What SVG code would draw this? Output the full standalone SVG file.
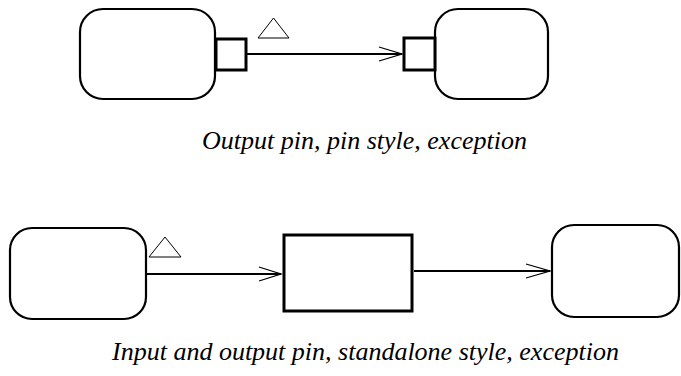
<svg xmlns="http://www.w3.org/2000/svg" width="681" height="376" viewBox="0 0 681 376">
<defs>
<style>
.act{fill:#fff;stroke:#000;stroke-width:2.2}
.pin{fill:#fff;stroke:#000;stroke-width:3}
.box{fill:#fff;stroke:#000;stroke-width:3}
.edge{fill:none;stroke:#000;stroke-width:2}
.head{fill:none;stroke:#000;stroke-width:1.3}
.exc{fill:#fff;stroke:#000;stroke-width:1}
.cap{font-family:"Liberation Serif",serif;font-style:italic;font-size:26px;fill:#000}
</style>
</defs>
<rect width="681" height="376" fill="#fff"/>
<g id="connectors">
<line class="edge" x1="247" y1="54" x2="402" y2="54"/>
<polyline class="head" points="379,47 402,54 379,61"/>
<line class="edge" x1="147" y1="274" x2="281" y2="274"/>
<polyline class="head" points="259,267 281,274 259,281"/>
<line class="edge" x1="414" y1="271" x2="550" y2="271"/>
<polyline class="head" points="526,264 550,271 526,278"/>
</g>
<g id="exc1"><polygon class="exc" points="258,38 273.5,18 289,38"/></g>
<g id="exc2"><polygon class="exc" points="149,257 165,237 181,257"/></g>
<g id="top-left"><rect class="act" x="80" y="9" width="135" height="90" rx="23"/></g>
<g id="top-left-pin"><rect class="pin" x="216" y="39" width="30" height="31"/></g>
<g id="top-right"><rect class="act" x="435" y="9" width="113" height="90" rx="23"/></g>
<g id="top-right-pin"><rect class="pin" x="404" y="38" width="31" height="32"/></g>
<g id="bottom-left"><rect class="act" x="10" y="228" width="136" height="91" rx="22"/></g>
<g id="bottom-mid"><rect class="box" x="284" y="235" width="128" height="76"/></g>
<g id="bottom-right"><rect class="act" x="552" y="225" width="127" height="92" rx="22"/></g>
<text class="cap" x="202" y="149">Output pin, pin style, exception</text>
<text class="cap" x="112" y="360">Input and output pin, standalone style, exception</text>
</svg>
